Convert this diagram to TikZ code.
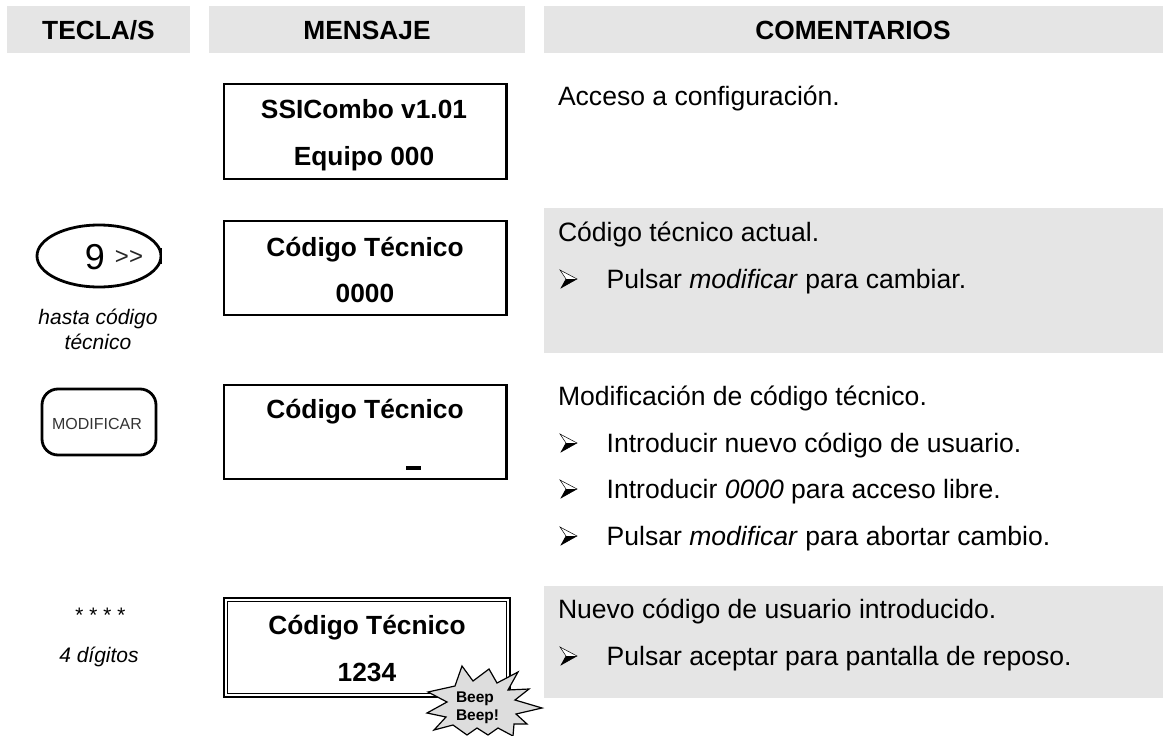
\documentclass[tikz,border=0pt]{standalone}
\usepackage{fontspec}
\setmainfont{Liberation Sans}
\definecolor{band}{HTML}{E5E5E5}
\definecolor{burstfill}{HTML}{DDDDDD}
\newcommand{\fs}[1]{\fontsize{#1}{#1}\selectfont}
\tikzset{x=1pt,y=-1pt,
 txt/.style={inner sep=0pt,outer sep=0pt},
 head/.style={txt,font=\fs{26.3}\bfseries,anchor=base},
 lcd/.style={draw=black,line width=2.6pt,fill=white},
 lcdtxt/.style={txt,font=\fs{26.3}\bfseries,anchor=base},
 cmt/.style={txt,font=\fs{26.55},anchor=base west},
 hint/.style={txt,font=\fs{21}\itshape,anchor=base},
 keyline/.style={draw=black,line width=2.8pt},
 bul/.pic={\draw[line width=.5pt,fill=white] (2,-18) -- (19,-9) -- (3,0) -- (8,-9) -- cycle;
           \fill (19,-9) -- (3,0) -- (8,-9) -- cycle;}}
\begin{document}
\begin{tikzpicture}
\useasboundingbox (0,0) rectangle (1163,736);
\fill[white] (0,0) rectangle (1163,736);
\fill[band] (7,6) rectangle (190,53);
\fill[band] (209,6) rectangle (525,53);
\fill[band] (544,6) rectangle (1163,53);
\fill[band] (544,208) rectangle (1163,353);
\fill[band] (544,586) rectangle (1163,698);
\node[head] (h1) at (98.5,39.3) {TECLA/S};
\node[head] (h2) at (367,39.3) {MENSAJE};
\node[head] (h3) at (853,39.3) {COMENTARIOS};
% message boxes
\draw[lcd] (224,84) rectangle (506.5,179);
\node[lcdtxt] (a1) at (364,118) {SSICombo v1.01};
\node[lcdtxt] (a2) at (364,165) {Equipo 000};
\draw[lcd] (224,221) rectangle (506.5,315);
\node[lcdtxt] (b1) at (365,256) {Código Técnico};
\node[lcdtxt] (b2) at (365,302) {0000};
\draw[lcd] (224,385) rectangle (506.5,479);
\node[lcdtxt] (c1) at (365,418) {Código Técnico};
\draw[line width=3.5pt] (406,468) -- (421,468);
\draw[line width=2.6pt,fill=white] (224,598) rectangle (510,697);
\draw[line width=1.3pt] (227.5,601.5) rectangle (506.5,693.5);
\node[lcdtxt] (d1) at (367,634) {Código Técnico};
\node[lcdtxt] (d2) at (367,681) {1234};
% burst
\draw[line width=1.2pt,fill=burstfill] (462,666) -- (473,681) -- (489,669) -- (497,683) -- (518,672) -- (508,690) -- (529,689) -- (515,700) -- (542,708) -- (516,714) -- (527,724) -- (514,724) -- (513,736) -- (498,728) -- (488,735) -- (477,728) -- (467,735) -- (453,725) -- (434,730) -- (446,717) -- (427,713) -- (447,702) -- (428,692) -- (455,686) -- cycle;
\node[txt,font=\fs{15.5}\bfseries,anchor=base west] (e1) at (456,702) {Beep};
\node[txt,font=\fs{15.5}\bfseries,anchor=base west] (e2) at (456,720) {Beep!};
% keys
\begin{scope}
\clip (20,215) rectangle (161.5,300);
\draw[keyline] (99,256) ellipse (62 and 31);
\end{scope}
\draw[line width=2.6pt] (161,248) -- (161,264);
\node[txt,font=\fs{36},anchor=center] (k9) at (95,257) {9};
\node[txt,font=\fs{24},anchor=center,text=black!85] (kg) at (129,258) {{>}{>}};
\node[hint] (k1a) at (98,324) {hasta código};
\node[hint] (k1b) at (98,349) {técnico};
\draw[keyline,rounded corners=16pt] (42,389) rectangle (156,455);
\node[txt,font=\fs{16},text=black!80,anchor=center] (km) at (97,424) {MODIFICAR};
\node[hint] (k3a) at (99.5,622) {* * * *};
\node[hint] (k3b) at (99,662) {4 dígitos};
% comments
\node[cmt] (t0) at (558,105) {Acceso a configuración.};
\node[cmt] (t1) at (558,241) {Código técnico actual.};
\pic at (558,288) {bul};
\node[cmt] (t2) at (606.7,288) {Pulsar \textit{modificar} para cambiar.};
\node[cmt] (t3) at (558,405) {Modificación de código técnico.};
\pic at (558,452) {bul};
\node[cmt] (t4) at (606.7,452) {Introducir nuevo código de usuario.};
\pic at (558,498) {bul};
\node[cmt] (t5) at (606.7,498) {Introducir \textit{0000} para acceso libre.};
\pic at (558,545) {bul};
\node[cmt] (t6) at (606.7,545) {Pulsar \textit{modificar} para abortar cambio.};
\node[cmt] (t7) at (558,618) {Nuevo código de usuario introducido.};
\pic at (558,665) {bul};
\node[cmt] (t8) at (606.7,665) {Pulsar aceptar para pantalla de reposo.};
\end{tikzpicture}
\end{document}
